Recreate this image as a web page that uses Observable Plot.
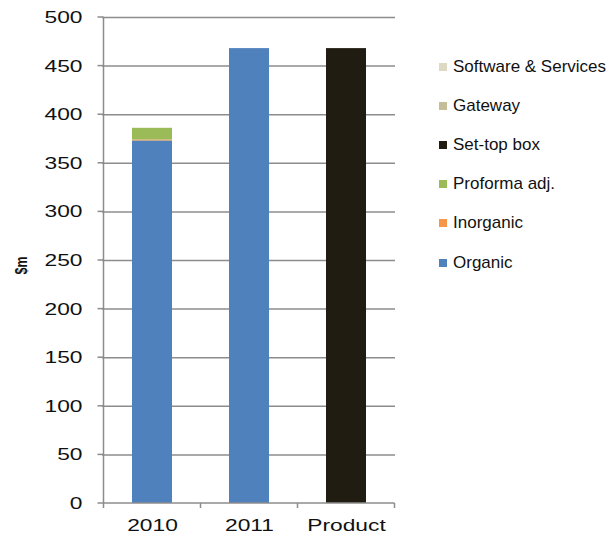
<!DOCTYPE html>
<html><head><meta charset="utf-8">
<script src="https://cdn.jsdelivr.net/npm/d3@7"></script>
<script src="https://cdn.jsdelivr.net/npm/@observablehq/plot@0.6"></script>
<style>
body{margin:0;background:#fff;}
#wrap{position:relative;width:612px;height:536px;overflow:hidden;font-family:"Liberation Sans",Arial,sans-serif;}
#legend{position:absolute;left:439px;top:0;}
.row{position:absolute;left:0;height:20px;display:flex;align-items:center;white-space:nowrap;}
.sw{width:8px;height:8px;margin-right:6px;flex:none;}
.lab{font-size:17px;color:#111;}
</style></head><body><div id="wrap"><div id="chart"></div><div id="legend"></div></div>
<script>
const categories = ["2010", "2011", "Product"];
const seriesNames = ["Organic", "Inorganic", "Proforma adj.", "Set-top box", "Gateway", "Software & Services"];
const seriesColors = ["#4f81bd", "#f79646", "#9bbb59", "#201c12", "#c4bd97", "#ddd9c3"];
const organic = [373, 468, 0];
const inorganic = [1, 0, 0];
const proforma = [12, 0, 0];
const setTopBox = [0, 0, 468];
const gateway = [0, 0, 0];
const softwareServices = [0, 0, 0];
const yTicks = [0, 50, 100, 150, 200, 250, 300, 350, 400, 450, 500];
const yLabel = "$m";

const seriesValues = [organic, inorganic, proforma, setTopBox, gateway, softwareServices];
const barData = [];
seriesNames.forEach((s, si) => categories.forEach((c, ci) => {
  const v = seriesValues[si][ci];
  if (v > 0) barData.push({category: c, series: s, value: v});
}));

const axisColor = "#8c8c8c";

const axisLines = Plot.ruleY([0], {
  render(index, scales) {
    const x = scales.x, y = scales.y;
    const bw = x.bandwidth ? x.bandwidth() : 0;
    const starts = categories.map(c => x(c));
    const step = starts[1] - starts[0];
    const gap = (step - bw) / 2;
    const bounds = starts.map(s => s - gap).concat([starts[starts.length - 1] + bw + gap]);
    const y0 = y(0), yTop = y(d3.max(yTicks));
    const g = d3.create("svg:g").attr("stroke", axisColor).attr("stroke-width", 1.5).attr("fill", "none");
    g.append("line").attr("x1", bounds[0]).attr("x2", bounds[0]).attr("y1", y0).attr("y2", yTop);
    g.append("line").attr("x1", bounds[0]).attr("x2", bounds[bounds.length - 1]).attr("y1", y0).attr("y2", y0);
    for (const b of bounds) g.append("line").attr("x1", b).attr("x2", b).attr("y1", y0).attr("y2", y0 + 5);
    for (const t of yTicks) g.append("line").attr("x1", bounds[0] - 6).attr("x2", bounds[0]).attr("y1", y(t)).attr("y2", y(t));
    return g.node();
  }
});

function stretchTexts(node, k) {
  node.querySelectorAll("text").forEach(t => {
    const tr = t.getAttribute("transform");
    if (tr) {
      if (tr.includes("rotate(")) t.setAttribute("transform", tr.replace("rotate(", `scale(${k},1) rotate(`));
      else t.setAttribute("transform", tr + ` scale(${k},1)`);
    } else {
      const x = +t.getAttribute("x") || 0, y = +t.getAttribute("y") || 0;
      t.removeAttribute("x"); t.removeAttribute("y");
      t.setAttribute("transform", `translate(${x},${y}) scale(${k},1)`);
    }
  });
  return node;
}
const stretched = k => function (index, scales, values, dims, context, next) {
  return stretchTexts(next(index, scales, values, dims, context), k);
};

const plot = Plot.plot({
  width: 612,
  height: 536,
  marginLeft: 102,
  marginRight: 217,
  marginTop: 17,
  marginBottom: 33,
  style: {fontFamily: "'Liberation Sans', Arial, sans-serif", background: "#fff", color: "#111"},
  x: {domain: categories, paddingInner: 0.59, paddingOuter: 0.295, axis: null},
  y: {domain: [0, 500], axis: null},
  color: {domain: seriesNames, range: seriesColors},
  marks: [
    Plot.ruleY(yTicks.filter(t => t > 0), {stroke: axisColor, strokeWidth: 1.5}),
    Plot.barY(barData, {x: "category", y: "value", fill: "series", order: null}),
    axisLines,
    Plot.text(yTicks, {y: d => d, frameAnchor: "left", dx: -20, textAnchor: "end", text: d => String(d), fontSize: 17, fill: "#111", render: stretched(1.34)}),
    Plot.text(categories, {x: d => d, frameAnchor: "bottom", lineAnchor: "top", dy: 15, text: d => d, fontSize: 17, fill: "#111", render: stretched(1.34)}),
    Plot.text([yLabel], {frameAnchor: "left", dx: -81, dy: 14, rotate: -90, text: d => d, fontSize: 12.5, fontWeight: "bold", fill: "#111", render: stretched(1.34)})
  ]
});

document.getElementById("chart").appendChild(plot);

const legend = document.getElementById("legend");
seriesNames.slice().reverse().forEach((s, i) => {
  const row = document.createElement("div");
  row.className = "row";
  row.style.top = (57 + i * 39.1) + "px";
  const sw = document.createElement("span");
  sw.className = "sw";
  sw.style.background = seriesColors[seriesNames.indexOf(s)];
  const lab = document.createElement("span");
  lab.className = "lab";
  lab.textContent = s;
  row.appendChild(sw); row.appendChild(lab);
  legend.appendChild(row);
});
</script></body></html>
